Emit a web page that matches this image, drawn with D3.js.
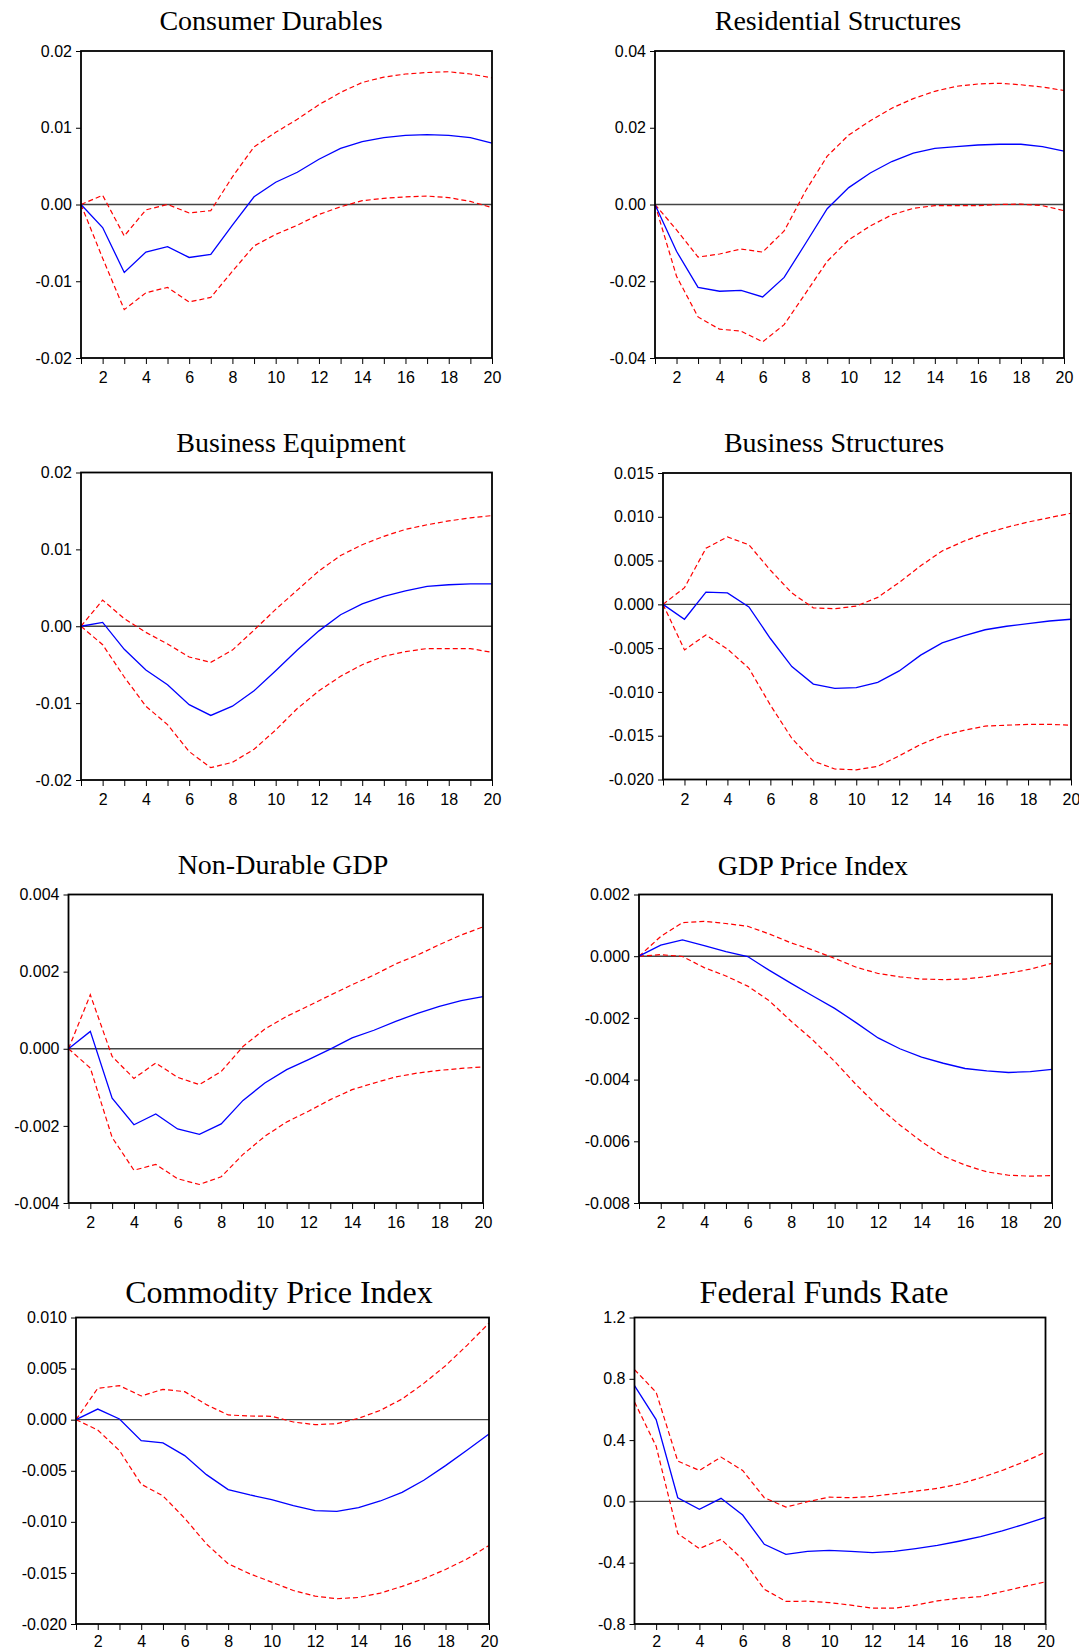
<!DOCTYPE html>
<html>
<head>
<meta charset="utf-8">
<script src="https://cdn.jsdelivr.net/npm/d3@7"></script>
<style>
html,body{margin:0;padding:0;background:#fff;}
svg{display:block;}
.title{font-family:"Liberation Serif","Times New Roman",serif;fill:#000;}
.tick text{font-family:"Liberation Sans",Arial,sans-serif;font-size:16px;fill:#000;}
</style>
</head>
<body>
<svg id="chart" width="1079" height="1652"></svg>
<script>
// ---- data ----
const horizons = d3.range(1, 21);
const xTickLabels = ["2","4","6","8","10","12","14","16","18","20"];

const titles = ["Consumer Durables","Residential Structures","Business Equipment","Business Structures",
  "Non-Durable GDP","GDP Price Index","Commodity Price Index","Federal Funds Rate"];

// Consumer Durables
const cdMid = [0,-0.0030,-0.00885,-0.0062,-0.0055,-0.0069,-0.0065,-0.0027,0.0010,0.0029,0.0042,0.0059,0.0073,0.0082,0.0087,0.0090,0.0091,0.0090,0.0087,0.0080];
const cdUp  = [0,0.0012,-0.0041,-0.0007,0.0000,-0.0011,-0.0008,0.0036,0.0075,0.0094,0.0111,0.0130,0.0146,0.0159,0.0166,0.0170,0.0172,0.0173,0.0170,0.0165];
const cdLo  = [0,-0.0070,-0.0137,-0.0115,-0.0108,-0.0127,-0.0121,-0.0087,-0.0054,-0.0039,-0.0027,-0.0013,-0.0003,0.0005,0.0008,0.0010,0.0011,0.0009,0.0004,-0.0004];
const cdTicks = [-0.02,-0.01,0,0.01,0.02];
const cdTickLabels = ["-0.02","-0.01","0.00","0.01","0.02"];

// Residential Structures
const rsMid = [0,-0.0122,-0.0216,-0.0226,-0.0224,-0.0241,-0.0190,-0.0101,-0.0011,0.0044,0.0082,0.0112,0.0134,0.0146,0.0151,0.0155,0.0157,0.0157,0.0151,0.0139];
const rsUp  = [0,-0.0066,-0.0137,-0.0129,-0.0116,-0.0124,-0.0069,0.0036,0.0126,0.0181,0.0218,0.0251,0.0276,0.0295,0.0308,0.0314,0.0316,0.0312,0.0306,0.0297];
const rsLo  = [0,-0.0187,-0.0293,-0.0325,-0.0330,-0.0358,-0.0313,-0.0231,-0.0148,-0.0092,-0.0056,-0.0027,-0.0010,-0.0003,-0.0003,-0.0003,0.0000,0.0001,-0.0003,-0.0016];
const rsTicks = [-0.04,-0.02,0,0.02,0.04];
const rsTickLabels = ["-0.04","-0.02","0.00","0.02","0.04"];

// Business Equipment
const beMid = [0,0.0005,-0.0030,-0.0057,-0.0076,-0.0102,-0.0116,-0.0104,-0.0084,-0.0058,-0.0031,-0.0006,0.0015,0.0029,0.0039,0.0046,0.0052,0.0054,0.0055,0.0055];
const beUp  = [0,0.0034,0.0010,-0.0008,-0.0023,-0.0040,-0.0047,-0.0031,-0.0005,0.0022,0.0047,0.0072,0.0092,0.0106,0.0117,0.0126,0.0132,0.0137,0.0141,0.0144];
const beLo  = [0,-0.0024,-0.0066,-0.0104,-0.0128,-0.0163,-0.0184,-0.0177,-0.0160,-0.0135,-0.0107,-0.0084,-0.0065,-0.0050,-0.0039,-0.0033,-0.0029,-0.0029,-0.0029,-0.0034];
const beTicks = [-0.02,-0.01,0,0.01,0.02];
const beTickLabels = ["-0.02","-0.01","0.00","0.01","0.02"];

// Business Structures
const bsMid = [0,-0.0017,0.0014,0.0013,-0.0003,-0.0039,-0.0071,-0.0091,-0.0096,-0.0095,-0.0089,-0.0076,-0.0058,-0.0044,-0.0036,-0.0029,-0.0025,-0.0022,-0.0019,-0.0017];
const bsUp  = [0,0.0019,0.0064,0.0077,0.0068,0.0039,0.0013,-0.0004,-0.0005,-0.0002,0.0008,0.0025,0.0044,0.0061,0.0072,0.0081,0.0088,0.0094,0.0099,0.0104];
const bsLo  = [0,-0.0052,-0.0035,-0.0051,-0.0073,-0.0115,-0.0153,-0.0179,-0.0188,-0.0189,-0.0185,-0.0173,-0.0160,-0.0150,-0.0144,-0.0139,-0.0138,-0.0137,-0.0137,-0.0138];
const bsTicks = [-0.020,-0.015,-0.010,-0.005,0,0.005,0.010,0.015];
const bsTickLabels = ["-0.020","-0.015","-0.010","-0.005","0.000","0.005","0.010","0.015"];

// Non-Durable GDP
const ndMid = [0,0.00045,-0.00128,-0.00197,-0.00169,-0.00208,-0.00222,-0.00195,-0.00134,-0.00089,-0.00054,-0.00028,-0.00001,0.00028,0.00048,0.00071,0.00092,0.00110,0.00125,0.00135];
const ndUp  = [0,0.00140,-0.00020,-0.00077,-0.00037,-0.00074,-0.00093,-0.00059,0.00006,0.00051,0.00084,0.00111,0.00139,0.00166,0.00191,0.00220,0.00243,0.00270,0.00295,0.00316];
const ndLo  = [0,-0.00050,-0.00230,-0.00315,-0.00300,-0.00337,-0.00352,-0.00332,-0.00274,-0.00227,-0.00190,-0.00162,-0.00132,-0.00106,-0.00089,-0.00073,-0.00063,-0.00056,-0.00051,-0.00047];
const ndTicks = [-0.004,-0.002,0,0.002,0.004];
const ndTickLabels = ["-0.004","-0.002","0.000","0.002","0.004"];

// GDP Price Index
const gpMid = [0,0.00036,0.00053,0.00034,0.00015,-0.00001,-0.00046,-0.00088,-0.00129,-0.00169,-0.00216,-0.00265,-0.00300,-0.00327,-0.00347,-0.00364,-0.00372,-0.00377,-0.00374,-0.00367];
const gpUp  = [0,0.00064,0.00109,0.00113,0.00106,0.00097,0.00072,0.00043,0.00020,-0.00007,-0.00036,-0.00056,-0.00067,-0.00074,-0.00076,-0.00074,-0.00066,-0.00055,-0.00042,-0.00023];
const gpLo  = [0,0.00005,-0.00001,-0.00037,-0.00064,-0.00097,-0.00145,-0.00211,-0.00272,-0.00341,-0.00417,-0.00487,-0.00547,-0.00601,-0.00648,-0.00677,-0.00699,-0.00710,-0.00713,-0.00711];
const gpTicks = [-0.008,-0.006,-0.004,-0.002,0,0.002];
const gpTickLabels = ["-0.008","-0.006","-0.004","-0.002","0.000","0.002"];

// Commodity Price Index
const cpMid = [0,0.00104,0.00007,-0.00205,-0.00228,-0.00352,-0.00538,-0.00685,-0.00737,-0.00782,-0.00841,-0.00890,-0.00897,-0.00861,-0.00796,-0.00711,-0.00593,-0.00450,-0.00297,-0.00140];
const cpUp  = [0,0.00307,0.00333,0.00232,0.00297,0.00274,0.00147,0.00046,0.00036,0.00033,-0.00023,-0.00049,-0.00039,0.00013,0.00091,0.00202,0.00355,0.00528,0.00730,0.00945];
const cpLo  = [0,-0.00101,-0.00303,-0.00632,-0.00746,-0.00965,-0.01216,-0.01411,-0.01509,-0.01590,-0.01672,-0.01727,-0.01753,-0.01740,-0.01698,-0.01632,-0.01557,-0.01466,-0.01362,-0.01231];
const cpTicks = [-0.020,-0.015,-0.010,-0.005,0,0.005,0.010];
const cpTickLabels = ["-0.020","-0.015","-0.010","-0.005","0.000","0.005","0.010"];

// Federal Funds Rate
const ffMid = [0.755,0.534,0.024,-0.052,0.020,-0.089,-0.280,-0.345,-0.326,-0.319,-0.326,-0.334,-0.326,-0.308,-0.287,-0.260,-0.230,-0.193,-0.150,-0.104];
const ffUp  = [0.860,0.712,0.263,0.202,0.289,0.202,0.024,-0.037,-0.002,0.028,0.024,0.033,0.050,0.067,0.085,0.113,0.154,0.202,0.258,0.321];
const ffLo  = [0.649,0.360,-0.210,-0.308,-0.247,-0.378,-0.573,-0.653,-0.651,-0.660,-0.677,-0.697,-0.697,-0.677,-0.649,-0.632,-0.621,-0.588,-0.556,-0.525];
const ffTicks = [-0.8,-0.4,0,0.4,0.8,1.2];
const ffTickLabels = ["-0.8","-0.4","0.0","0.4","0.8","1.2"];

// ---- layout (positions only) ----
const panels = [
  {mid:cdMid, up:cdUp, lo:cdLo, ticks:cdTicks, labels:cdTickLabels, box:[81,492,51,358], tx:271, ty:30, fs:28, ldy:"0.88em"},
  {mid:rsMid, up:rsUp, lo:rsLo, ticks:rsTicks, labels:rsTickLabels, box:[655,1064,51,358], tx:838, ty:30, fs:28, ldy:"0.88em"},
  {mid:beMid, up:beUp, lo:beLo, ticks:beTicks, labels:beTickLabels, box:[81,492,472.5,780], tx:291, ty:452, fs:28, ldy:"0.88em"},
  {mid:bsMid, up:bsUp, lo:bsLo, ticks:bsTicks, labels:bsTickLabels, box:[663,1071,473,779.5], tx:834, ty:452, fs:28, ldy:"0.88em"},
  {mid:ndMid, up:ndUp, lo:ndLo, ticks:ndTicks, labels:ndTickLabels, box:[68.5,483,894.5,1203], tx:283, ty:874, fs:28, ldy:"0.88em"},
  {mid:gpMid, up:gpUp, lo:gpLo, ticks:gpTicks, labels:gpTickLabels, box:[639,1052,894.5,1203], tx:813, ty:875, fs:28, ldy:"0.88em"},
  {mid:cpMid, up:cpUp, lo:cpLo, ticks:cpTicks, labels:cpTickLabels, box:[76,489,1317.5,1624], tx:279, ty:1303, fs:32, ldy:"0.76em"},
  {mid:ffMid, up:ffUp, lo:ffLo, ticks:ffTicks, labels:ffTickLabels, box:[634.5,1045.5,1317.5,1624], tx:824, ty:1303, fs:32, ldy:"0.76em"}
];

const svg = d3.select("#chart");
svg.append("rect").attr("width",1079).attr("height",1652).attr("fill","#fff");

panels.forEach((p, i) => {
  const [x0, x1, y0, y1] = p.box;
  const x = d3.scaleLinear().domain([1, 20]).range([x0, x1]);
  const y = d3.scaleLinear().domain([p.ticks[0], p.ticks[p.ticks.length-1]]).range([y1, y0]);
  const g = svg.append("g");

  g.append("text").attr("class","title")
    .attr("x", p.tx).attr("y", p.ty)
    .attr("text-anchor","middle").attr("font-size", p.fs)
    .text(titles[i]);

  // y axis
  const yAxis = d3.axisLeft(y).tickValues(p.ticks).tickSize(5).tickPadding(4)
    .tickFormat((d, k) => p.labels[k]);
  const ya = g.append("g").attr("transform", `translate(${x0},0)`).call(yAxis);
  ya.select(".domain").remove();
  ya.selectAll(".tick line").attr("stroke","#000").attr("stroke-width",1);

  // x axis
  const xAxis = d3.axisBottom(x).tickValues(horizons).tickSize(6).tickPadding(5)
    .tickFormat(d => (d % 2 === 0) ? xTickLabels[d/2 - 1] : "");
  const xa = g.append("g").attr("transform", `translate(0,${y1})`).call(xAxis);
  xa.select(".domain").remove();
  xa.selectAll(".tick line").attr("stroke","#000").attr("stroke-width",1);
  xa.selectAll(".tick text").attr("dy", p.ldy);

  // zero line
  g.append("line").attr("x1", x0).attr("x2", x1)
    .attr("y1", y(0)).attr("y2", y(0))
    .attr("stroke","#444").attr("stroke-width",1.4);

  const line = d3.line().x((d, k) => x(horizons[k])).y(d => y(d));

  g.append("path").datum(p.up).attr("d", line)
    .attr("fill","none").attr("stroke","#ff0000").attr("stroke-width",1.2)
    .attr("stroke-dasharray","5,3");
  g.append("path").datum(p.lo).attr("d", line)
    .attr("fill","none").attr("stroke","#ff0000").attr("stroke-width",1.2)
    .attr("stroke-dasharray","5,3");
  g.append("path").datum(p.mid).attr("d", line)
    .attr("fill","none").attr("stroke","#0000ff").attr("stroke-width",1.3);

  // frame
  g.append("rect").attr("x", x0).attr("y", y0)
    .attr("width", x1 - x0).attr("height", y1 - y0)
    .attr("fill","none").attr("stroke","#000").attr("stroke-width",1.8);
});
</script>
</body>
</html>
